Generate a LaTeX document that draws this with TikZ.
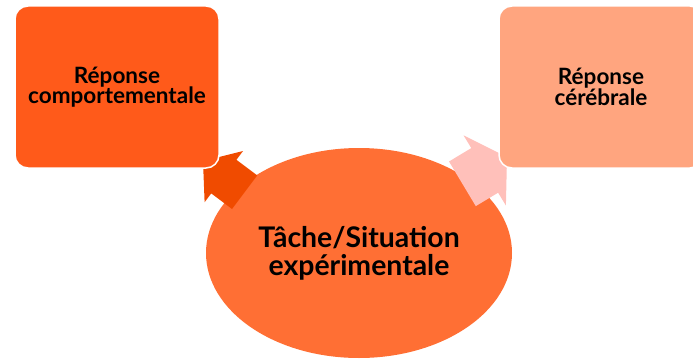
\documentclass[tikz,border=0pt]{standalone}
\usepackage{fontspec}
\setmainfont{Lato}
\usetikzlibrary{shapes.geometric}
\definecolor{boxA}{RGB}{255,90,26}
\definecolor{boxB}{RGB}{255,165,127}
\definecolor{ellC}{RGB}{255,111,52}
\definecolor{arrA}{RGB}{240,75,0}
\definecolor{arrB}{RGB}{255,192,186}
\tikzset{
  panel/.style={rectangle, rounded corners=13pt, draw=white, line width=1.5pt,
    minimum width=204pt, minimum height=162pt, align=center, text=black,
    font=\bfseries\fontsize{22.5}{20.5}\selectfont},
  centre/.style={ellipse, fill=ellC, minimum width=306pt, minimum height=210pt,
    inner sep=0pt, align=center, text=black,
    font=\bfseries\fontsize{28.4}{28}\selectfont},
}
\begin{document}
\begin{tikzpicture}[x=1pt,y=-1pt]
\useasboundingbox (0,0) rectangle (693,361);
\clip (0,0) rectangle (693,361);
% central ellipse
\node[centre] (task) at (359,253) {Tâche/Situation\\expérimentale};
% block arrows
\coordinate (tipA) at (203,161);
\coordinate (tipB) at (507,157);
\fill[arrA] (tipA) -- (243,151) -- (236.4,159.8) -- (257.2,175.4) -- (232,209)
  -- (211.2,193.4) -- (204.6,202.2) -- cycle;
\fill[arrB] (tipB) -- (463.5,135.3) -- (471.3,148.1) -- (449,161.5) -- (475.8,206.1)
  -- (498.1,192.7) -- (505.9,205.5) -- cycle;
% boxes
\node[panel, fill=boxA] (comp) at (117,87) {Réponse\\comportementale};
\node[panel, fill=boxB] (cereb) at (601,87) {Réponse\\cérébrale};
\end{tikzpicture}
\end{document}
